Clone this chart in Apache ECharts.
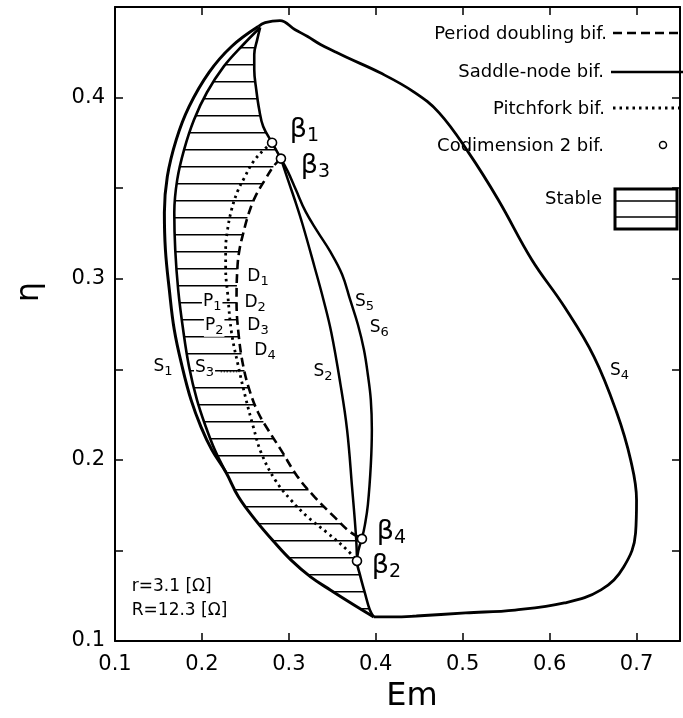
<!DOCTYPE html>
<html><head><meta charset="utf-8">
<script src="https://cdn.jsdelivr.net/npm/echarts@6/dist/echarts.min.js"></script>
<style>html,body{margin:0;padding:0;background:#fff}#c{width:683px;height:718px}</style>
</head><body><div id="c"></div>
<script>
// ---------- data (Em, eta) ----------
const xTickValues = [0.1, 0.2, 0.3, 0.4, 0.5, 0.6, 0.7];
const yTickValues = [0.1, 0.2, 0.3, 0.4];

// saddle-node S4 (outer right branch, top -> bottom corner)
const S4 = [[0.2648,0.4392],[0.2727,0.4414],[0.2898,0.4425],[0.3068,0.4376],[0.3216,0.4337],[0.3364,0.4293],[0.3519,0.4256],[0.3670,0.4221],[0.4045,0.4138],[0.4432,0.4033],[0.4727,0.3917],[0.5068,0.3696],[0.5409,0.3436],[0.5795,0.3105],[0.6170,0.2845],[0.6511,0.2569],[0.6773,0.2260],[0.6932,0.2000],[0.7000,0.1779],[0.6989,0.1597],[0.6852,0.1409],[0.6591,0.1282],[0.6170,0.1210],[0.5602,0.1171],[0.5034,0.1155],[0.4466,0.1138],[0.4205,0.1133],[0.3977,0.1133]];
// saddle-node S1 (outer left branch)
const S1 = [[0.2648,0.4392],[0.2341,0.4282],[0.2080,0.4138],[0.1852,0.3950],[0.1705,0.3768],[0.1602,0.3564],[0.1568,0.3365],[0.1580,0.3160],[0.1625,0.2939],[0.1682,0.2718],[0.1773,0.2514],[0.1875,0.2331],[0.1989,0.2182],[0.2114,0.2055],[0.2273,0.1934],[0.2420,0.1796],[0.2614,0.1669],[0.2841,0.1541],[0.3023,0.1448],[0.3250,0.1354],[0.3477,0.1282],[0.3750,0.1199],[0.3977,0.1133]];
// saddle-node S3 (inner left branch)
const S3 = [[0.2670,0.4387],[0.2477,0.4293],[0.2250,0.4171],[0.2057,0.4028],[0.1909,0.3878],[0.1795,0.3713],[0.1716,0.3547],[0.1682,0.3365],[0.1693,0.3160],[0.1727,0.2939],[0.1784,0.2718],[0.1852,0.2514],[0.1943,0.2331],[0.2045,0.2182],[0.2148,0.2055],[0.2273,0.1934]];
// saddle-node from the top down to beta1 and beta3
const topBranch = [[0.2670,0.4387],[0.2636,0.4320],[0.2602,0.4238],[0.2602,0.4155],[0.2625,0.4044],[0.2659,0.3934],[0.2705,0.3840],[0.2807,0.3751],[0.2909,0.3663]];
// saddle-node S2 (beta3 -> beta2)
const S2 = [[0.2909,0.3663],[0.2989,0.3547],[0.3068,0.3436],[0.3159,0.3298],[0.3295,0.3066],[0.3398,0.2884],[0.3489,0.2702],[0.3591,0.2425],[0.3670,0.2166],[0.3727,0.1851],[0.3773,0.1575],[0.3784,0.1442]];
// saddle-node S5/S6 (beta3 -> beta4)
const S5 = [[0.2909,0.3663],[0.2989,0.3591],[0.3080,0.3492],[0.3193,0.3370],[0.3330,0.3260],[0.3477,0.3149],[0.3614,0.3022],[0.3705,0.2884],[0.3795,0.2746],[0.3864,0.2608],[0.3909,0.2470],[0.3943,0.2331],[0.3955,0.2166],[0.3943,0.1972],[0.3909,0.1751],[0.3875,0.1641],[0.3841,0.1564]];
// saddle-node: beta4 -> beta2 -> bottom corner
const bottomBranch = [[0.3841,0.1564],[0.3784,0.1442],[0.3818,0.1365],[0.3875,0.1265],[0.3932,0.1171],[0.3977,0.1133]];
// pitchfork (beta1 -> beta2)
const pitchfork = [[0.2807,0.3751],[0.2716,0.3713],[0.2591,0.3646],[0.2489,0.3558],[0.2409,0.3481],[0.2341,0.3381],[0.2295,0.3271],[0.2273,0.3160],[0.2273,0.3050],[0.2295,0.2923],[0.2341,0.2702],[0.2420,0.2514],[0.2500,0.2348],[0.2591,0.2182],[0.2682,0.2039],[0.2841,0.1890],[0.3023,0.1779],[0.3216,0.1685],[0.3443,0.1597],[0.3670,0.1503],[0.3784,0.1442]];
// period doubling (beta3 -> beta4)
const periodDoubling = [[0.2909,0.3663],[0.2830,0.3624],[0.2727,0.3547],[0.2614,0.3453],[0.2534,0.3354],[0.2477,0.3254],[0.2432,0.3160],[0.2409,0.3066],[0.2398,0.2884],[0.2420,0.2702],[0.2477,0.2514],[0.2557,0.2370],[0.2648,0.2260],[0.2761,0.2166],[0.2909,0.2055],[0.3102,0.1906],[0.3295,0.1796],[0.3523,0.1685],[0.3705,0.1602],[0.3841,0.1564]];
// codimension-2 points
const betaNames = ['1','2','3','4'];
const betaPoints = [[0.2807,0.3751],[0.3784,0.1442],[0.2909,0.3663],[0.3841,0.1564]];
// curve labels: [main, subscript, Em, eta]
const curveLabels = [
  ['S','1',0.1432,0.2514],['S','3',0.1909,0.2508],['S','2',0.3273,0.2486],
  ['S','5',0.3750,0.2873],['S','6',0.3920,0.2729],['S','4',0.6682,0.2492],
  ['D','1',0.2511,0.3011],['D','2',0.2477,0.2867],['D','3',0.2511,0.2740],['D','4',0.2591,0.2602],
  ['P','1',0.2000,0.2873],['P','2',0.2023,0.2740]
];
const betaLabelPos = [[0.3011,0.3823],[0.3955,0.1414],[0.3136,0.3624],[0.4011,0.1602]];
const paramTexts = ['r=3.1 [Ω]','R=12.3 [Ω]'];
const paramPos = [[0.1193,0.1298],[0.1193,0.1166]];
const leaderS3 = [[0.2216,0.2486],[0.2432,0.2486]];
const hatchStartEta = 0.1272;

// ---------- chart ----------
const FONT = 'DejaVu Sans';
const hatchPoly = S3.slice(0, S3.length - 1)
  .concat(S1.slice(14))
  .concat(bottomBranch.slice().reverse())
  .concat(periodDoubling.slice().reverse())
  .concat(topBranch.slice(0, topBranch.length - 1).reverse());

function tickFmt(v){ const k = Math.round(v*100); return k % 10 === 0 ? (k/100).toFixed(1) : ''; }

function lineSeries(data, width, type, z){
  return {type:'line', data:data, symbol:'none', showSymbol:false, smooth:0.4,
    lineStyle:{color:'#000', width:width, type:type || 'solid', cap:'butt'}, z:z||3, silent:true};
}

const chart = echarts.init(document.getElementById('c'));
const axisCommon = {
  type:'value', splitLine:{show:false},
  axisLine:{show:true, onZero:false, lineStyle:{color:'#000', width:2}},
  axisTick:{show:true, inside:true, length:8, lineStyle:{color:'#000', width:1.5}},
};
chart.setOption({
  animation:false,
  backgroundColor:'#fff',
  grid:{left:115, top:7, width:569, height:634, containLabel:false},
  xAxis:[
    Object.assign({}, axisCommon, {min:0.1, max:0.75, interval:0.1, position:'bottom',
      axisLabel:{formatter:tickFmt, fontFamily:FONT, fontSize:21, color:'#000', margin:13}}),
    Object.assign({}, axisCommon, {min:0.1, max:0.75, interval:0.1, position:'top', axisLabel:{show:false}})
  ],
  yAxis:[
    Object.assign({}, axisCommon, {min:0.1, max:0.45, interval:0.05, position:'left',
      axisLabel:{formatter:tickFmt, fontFamily:FONT, fontSize:21, color:'#000', margin:10}}),
    Object.assign({}, axisCommon, {min:0.1, max:0.45, interval:0.05, position:'right', axisLabel:{show:false}})
  ],
  series:[
    {type:'custom', data:[[0.2,0.2]], z:1, silent:true, clip:true,
     renderItem:function(params, api){
       const pts = hatchPoly.map(p => api.coord(p));
       let ymin = Infinity, ymax = -Infinity;
       pts.forEach(p => { ymin = Math.min(ymin,p[1]); ymax = Math.max(ymax,p[1]); });
       const y0 = api.coord([0.2, hatchStartEta])[1];
       const levels = [];
       for (let y = y0; y > ymin; y -= 17) levels.push(y);
       for (let y = y0 + 17; y < ymax; y += 17) levels.push(y);
       const children = [];
       levels.forEach(y => {
         const xs = [];
         for (let i = 0; i < pts.length; i++){
           const a = pts[i], b = pts[(i+1) % pts.length];
           if ((a[1] <= y && b[1] > y) || (b[1] <= y && a[1] > y)){
             xs.push(a[0] + (y - a[1]) / (b[1] - a[1]) * (b[0] - a[0]));
           }
         }
         xs.sort((p,q) => p - q);
         for (let k = 0; k + 1 < xs.length; k += 2){
           children.push({type:'line', shape:{x1:xs[k], y1:y, x2:xs[k+1], y2:y},
             style:{stroke:'#000', lineWidth:1.5}});
         }
       });
       return {type:'group', children:children};
     }},
    lineSeries(S4, 2.8),
    lineSeries(S1, 3),
    lineSeries(S3, 2.6),
    lineSeries(topBranch, 2.6),
    lineSeries(S2, 2.5),
    lineSeries(S5, 2.5),
    lineSeries(bottomBranch, 2.6),
    lineSeries(pitchfork, 2.8, [2.5,4]),
    lineSeries(periodDoubling, 2.6, [9,5]),
    lineSeries(leaderS3, 1, [1.5,1.5]),
    {type:'scatter', data:betaPoints, symbol:'circle', symbolSize:9, z:10, silent:true,
     itemStyle:{color:'#fff', borderColor:'#000', borderWidth:1.6, opacity:1}},
    {type:'scatter', symbolSize:0, z:12, silent:true,
     data:betaLabelPos.map((p,i) => ({value:p, name:betaNames[i]})),
     label:{show:true, position:'right', distance:0, align:'left', verticalAlign:'middle', color:'#000', opacity:1,
       formatter:p => '{b|β}{s|' + p.name + '}',
       rich:{b:{fontFamily:FONT, fontSize:27, color:'#000'},
             s:{fontFamily:FONT, fontSize:19, color:'#000', padding:[12,0,0,0]}}}},
    {type:'scatter', symbolSize:0, z:12, silent:true,
     data:curveLabels.map(c => ({value:[c[2],c[3]], name:c[0] + '|' + c[1],
        label:{backgroundColor:(c[0]==='P' || (c[0]==='S' && c[1]==='3')) ? '#fff' : 'transparent'}})),
     label:{show:true, position:'right', distance:0, align:'left', verticalAlign:'middle', padding:[0,1,0,1], color:'#000', opacity:1,
       formatter:p => { const s = p.name.split('|'); return '{a|' + s[0] + '}{s|' + s[1] + '}'; },
       rich:{a:{fontFamily:FONT, fontSize:17, color:'#000'},
             s:{fontFamily:FONT, fontSize:13, color:'#000', padding:[9,0,0,0]}}}},
    {type:'scatter', symbolSize:0, z:12, silent:true,
     data:paramPos.map((p,i) => ({value:p, name:paramTexts[i]})),
     label:{show:true, position:'right', distance:0, align:'left', verticalAlign:'middle', opacity:1,
       formatter:p => p.name, fontFamily:FONT, fontSize:17, color:'#000'}}
  ],
  graphic:[
    {type:'text', x:30, y:292, rotation:Math.PI/2, style:{text:'η', font:'32px DejaVu Sans', fill:'#000',
      align:'center', verticalAlign:'middle', textAlign:'center', textVerticalAlign:'middle'}},
    {type:'text', x:412, y:697, style:{text:'Em', font:'32px DejaVu Sans', fill:'#000',
      align:'center', verticalAlign:'middle', textAlign:'center', textVerticalAlign:'middle'}},
    {type:'text', x:607, y:34, style:{text:'Period doubling bif.', font:'18px DejaVu Sans', fill:'#000', align:'right', verticalAlign:'middle', textAlign:'right', textVerticalAlign:'middle'}},
    {type:'text', x:604, y:72, style:{text:'Saddle-node bif.', font:'18px DejaVu Sans', fill:'#000', align:'right', verticalAlign:'middle', textAlign:'right', textVerticalAlign:'middle'}},
    {type:'text', x:605, y:109, style:{text:'Pitchfork bif.', font:'18px DejaVu Sans', fill:'#000', align:'right', verticalAlign:'middle', textAlign:'right', textVerticalAlign:'middle'}},
    {type:'text', x:604, y:146, style:{text:'Codimension 2 bif.', font:'18px DejaVu Sans', fill:'#000', align:'right', verticalAlign:'middle', textAlign:'right', textVerticalAlign:'middle'}},
    {type:'text', x:602, y:199, style:{text:'Stable', font:'18px DejaVu Sans', fill:'#000', align:'right', verticalAlign:'middle', textAlign:'right', textVerticalAlign:'middle'}},
    {type:'line', shape:{x1:613, y1:33, x2:685, y2:33}, style:{stroke:'#000', lineWidth:2.6, lineDash:[9,5]}},
    {type:'line', shape:{x1:611, y1:72, x2:685, y2:72}, style:{stroke:'#000', lineWidth:2.6}},
    {type:'line', shape:{x1:613, y1:108, x2:685, y2:108}, style:{stroke:'#000', lineWidth:2.8, lineDash:[2.5,4]}},
    {type:'circle', shape:{cx:663, cy:145, r:3.5}, style:{fill:'#fff', stroke:'#000', lineWidth:1.5}},
    {type:'rect', shape:{x:615, y:189, width:62, height:40}, style:{fill:'#fff', stroke:'#000', lineWidth:3}},
    {type:'line', shape:{x1:615, y1:201, x2:677, y2:201}, style:{stroke:'#000', lineWidth:1.5}},
    {type:'line', shape:{x1:615, y1:217, x2:677, y2:217}, style:{stroke:'#000', lineWidth:1.5}}
  ]
});
</script></body></html>
